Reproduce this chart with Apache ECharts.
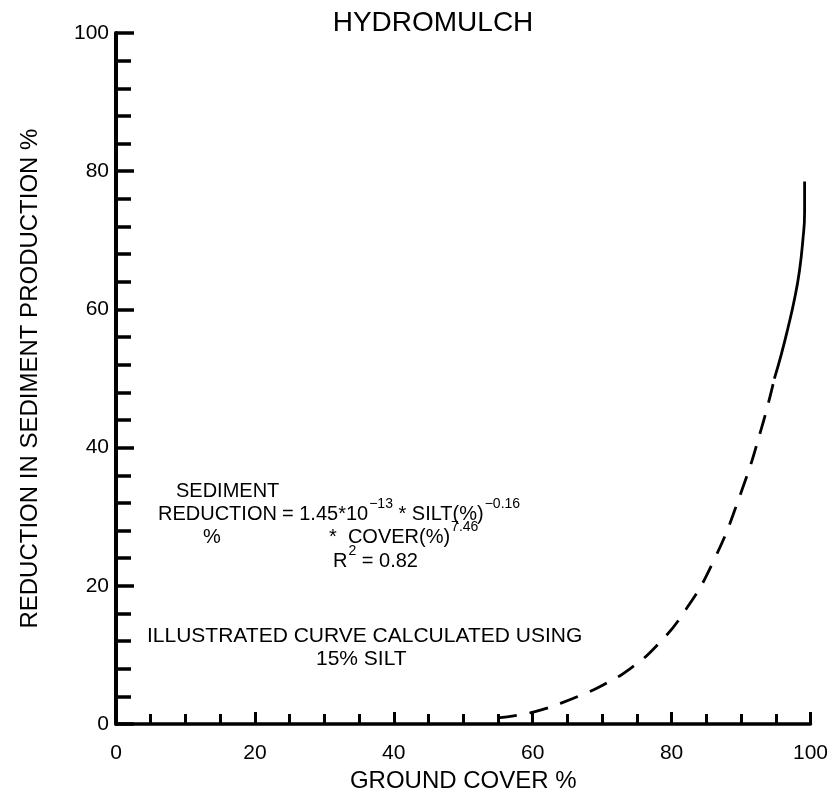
<!DOCTYPE html>
<html>
<head>
<meta charset="utf-8">
<script src="https://cdn.jsdelivr.net/npm/echarts@6/dist/echarts.min.js"></script>
<style>
html,body{margin:0;padding:0;background:#fff;}
#chart{width:831px;height:798px;}
</style>
</head>
<body>
<div id="chart"></div>
<script>
// Data
const coverDashed = [55, 58, 61, 64, 67, 70, 74, 78, 82, 86, 90, 93, 94.8];
const reductionDashed = [0.9, 1.3, 2.0, 3.0, 4.2, 5.6, 8.0, 11.5, 16.5, 23.5, 33.5, 43, 50];
const coverSolid = [94.8, 95.8, 96.8, 97.7, 98.4, 98.9, 99.15, 99.15];
const reductionSolid = [50, 53.5, 57.5, 61.5, 65.5, 70, 74, 78.5];
const xTicks = [0, 20, 40, 60, 80, 100];
const yTicks = [0, 20, 40, 60, 80, 100];

const FONT = 'Liberation Sans';
const chart = echarts.init(document.getElementById('chart'), null, {renderer: 'canvas'});

function pairs(xs, ys) { return xs.map((x, i) => [x, ys[i]]); }

const base = {fontFamily: FONT, fontSize: 20, color: '#000', lineHeight: 27, verticalAlign: 'bottom'};
const sup = {fontFamily: FONT, fontSize: 14, color: '#000', lineHeight: 21, verticalAlign: 'top', padding: [0, 0, 0, 1]};

const option = {
  backgroundColor: '#ffffff',
  animation: false,
  title: {
    text: 'HYDROMULCH',
    left: 428, top: 4, textAlign: 'center',
    textStyle: {fontFamily: FONT, fontSize: 28, fontWeight: 'normal', color: '#000'}
  },
  grid: {left: 116, right: 19, top: 33, bottom: 66, containLabel: false},
  xAxis: {
    type: 'value', min: xTicks[0], max: xTicks[xTicks.length - 1], interval: 20,
    name: 'GROUND COVER %', nameLocation: 'middle', nameGap: 38,
    nameTextStyle: {fontFamily: FONT, fontSize: 24, color: '#000'},
    axisLine: {show: true, lineStyle: {color: '#000', width: 3.5}},
    axisTick: {show: true, inside: true, length: 12, lineStyle: {color: '#000', width: 3}},
    minorTick: {show: true, splitNumber: 4, length: 10, lineStyle: {color: '#000', width: 3}},
    axisLabel: {fontFamily: FONT, fontSize: 21, color: '#000', margin: 19},
    splitLine: {show: false}
  },
  yAxis: {
    type: 'value', min: yTicks[0], max: yTicks[yTicks.length - 1], interval: 20,
    name: 'REDUCTION IN SEDIMENT PRODUCTION %', nameLocation: 'middle', nameGap: 74, nameRotate: 90,
    nameTextStyle: {fontFamily: FONT, fontSize: 24, color: '#000'},
    axisLine: {show: true, lineStyle: {color: '#000', width: 4}},
    axisTick: {show: true, inside: true, length: 18, lineStyle: {color: '#000', width: 3.5}},
    minorTick: {show: true, splitNumber: 5, length: 15, lineStyle: {color: '#000', width: 3.5}},
    axisLabel: {fontFamily: FONT, fontSize: 21, color: '#000', margin: 7},
    splitLine: {show: false}
  },
  series: [
    {
      type: 'line', data: pairs(coverDashed, reductionDashed), smooth: true,
      showSymbol: false, symbol: 'none',
      lineStyle: {color: '#000', width: 2.8, type: [19, 13]}
    },
    {
      type: 'line', data: pairs(coverSolid, reductionSolid), smooth: true,
      showSymbol: false, symbol: 'none',
      lineStyle: {color: '#000', width: 2.8, type: 'solid'}
    }
  ],
  graphic: [
    {type: 'text', left: 176, top: 481, style: {text: 'SEDIMENT', font: '20px "Liberation Sans"', fill: '#000'}},
    {type: 'text', left: 158, top: 504, style: {text: 'REDUCTION', font: '20px "Liberation Sans"', fill: '#000'}},
    {type: 'text', left: 203, top: 527, style: {text: '%', font: '20px "Liberation Sans"', fill: '#000'}},
    {type: 'text', left: 282, top: 497, style: {
      text: '{a|= 1.45*10}{s|\u221213}{a| * SILT(%)}{s|\u22120.16}',
      rich: {a: base, s: sup}
    }},
    {type: 'text', left: 329, top: 520, style: {
      text: '{a|*  COVER(%)}{s|7.46}',
      rich: {a: base, s: sup}
    }},
    {type: 'text', left: 333, top: 544, style: {
      text: '{a|R}{s|2}{a| = 0.82}',
      rich: {a: base, s: sup}
    }},
    {type: 'text', left: 147, top: 626, style: {text: 'ILLUSTRATED CURVE CALCULATED USING', font: '21px "Liberation Sans"', fill: '#000'}},
    {type: 'text', left: 316, top: 649, style: {text: '15% SILT', font: '21px "Liberation Sans"', fill: '#000'}}
  ]
};
chart.setOption(option);
</script>
</body>
</html>
